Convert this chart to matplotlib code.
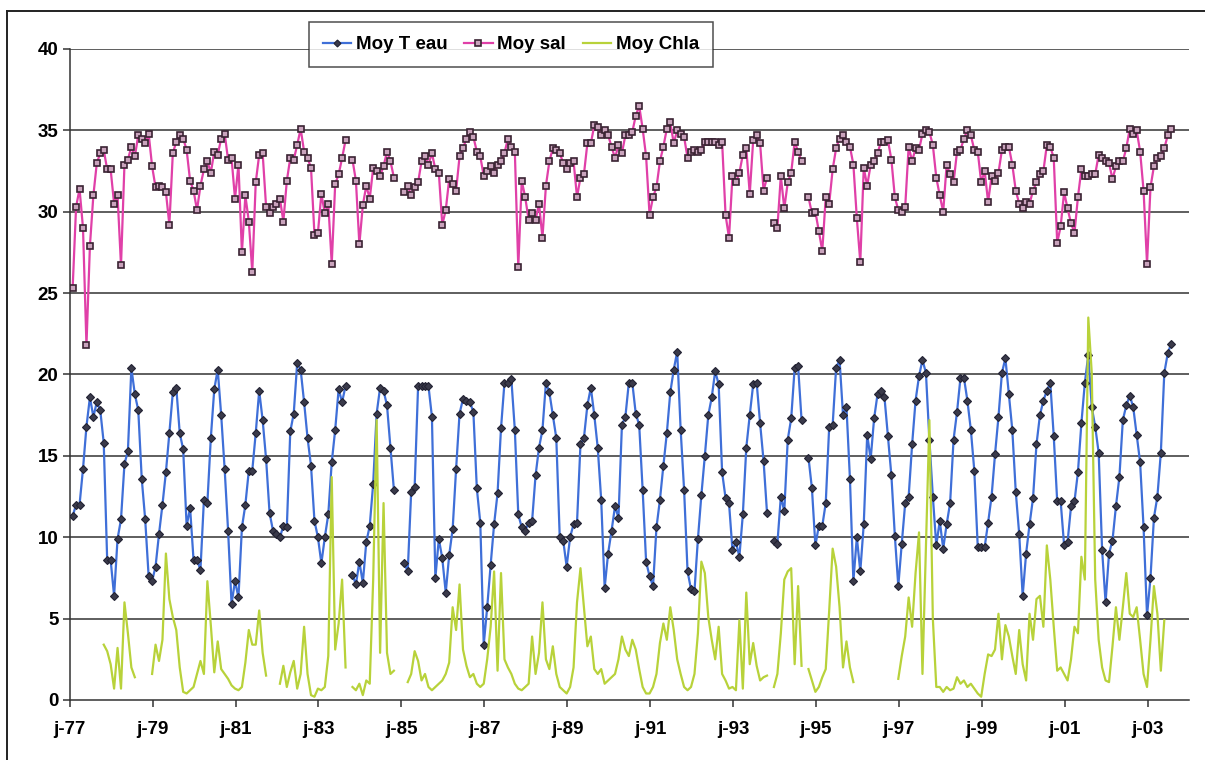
import numpy as np
import matplotlib
matplotlib.use("Agg")
import matplotlib.pyplot as plt
from matplotlib.lines import Line2D

N = None
# Monthly series, Jan 1977 .. Dec 2003 (12 values per row = one year)
temp = [
    11.3, 12.0, 12.0, 14.2, 16.8, 18.6, 17.4, 18.3, 17.8, 15.8, 8.6, 8.6,      # 1977
    6.4, 9.9, 11.1, 14.5, 15.3, 20.4, 18.8, 17.8, 13.6, 11.1, 7.6, 7.3,        # 1978
    8.2, 10.2, 12.0, 14.0, 16.4, 18.9, 19.2, 16.4, 15.4, 10.7, 11.8, 8.6,      # 1979
    8.6, 8.0, 12.3, 12.1, 16.1, 19.1, 20.3, 17.5, 14.2, 10.4, 5.9, 7.3,        # 1980
    6.3, 10.6, 12.0, 14.1, 14.1, 16.4, 19.0, 17.2, 14.8, 11.5, 10.4, 10.2,     # 1981
    10.0, 10.7, 10.6, 16.5, 17.6, 20.7, 20.3, 18.3, 16.1, 14.4, 11.0, 10.0,    # 1982
    8.4, 10.0, 11.4, 14.6, 16.6, 19.1, 18.3, 19.3, N, 7.7, 7.1, 8.5,           # 1983
    7.2, 9.7, 10.7, 13.3, 17.6, 19.2, 19.0, 18.1, 15.5, 12.9, N, N,            # 1984
    8.4, 7.9, 12.8, 13.1, 19.3, 19.3, 19.3, 19.3, 17.4, 7.5, 9.9, 8.7,         # 1985
    6.6, 8.9, 10.5, 14.2, 17.6, 18.5, 18.4, 18.3, 17.7, 13.0, 10.9, 3.4,       # 1986
    5.7, 8.3, 10.8, 12.7, 16.7, 19.5, 19.5, 19.7, 16.6, 11.4, 10.6, 10.4,      # 1987
    10.9, 11.0, 13.8, 15.5, 16.6, 19.5, 18.9, 17.5, 16.1, 10.0, 9.8, 8.2,      # 1988
    10.0, 10.8, 10.9, 15.7, 16.1, 18.1, 19.2, 17.5, 15.5, 12.3, 6.9, 9.0,      # 1989
    10.4, 11.9, 11.2, 16.9, 17.4, 19.5, 19.5, 17.6, 16.9, 12.9, 8.5, 7.6,      # 1990
    7.0, 10.6, 12.3, 14.4, 16.4, 18.9, 20.3, 21.4, 16.6, 12.9, 7.9, 6.8,       # 1991
    6.7, 9.9, 12.6, 15.0, 17.5, 18.6, 20.2, 19.4, 14.0, 12.4, 12.1, 9.2,       # 1992
    9.7, 8.8, 11.4, 15.5, 17.5, 19.4, 19.5, 17.0, 14.7, 11.5, N, 9.8,          # 1993
    9.6, 12.5, 11.6, 16.0, 17.3, 20.4, 20.5, 17.2, N, 14.9, 13.0, 9.5,         # 1994
    10.7, 10.7, 12.1, 16.8, 16.9, 20.4, 20.9, 17.5, 18.0, 13.6, 7.3, 10.0,     # 1995
    7.9, 10.8, 16.3, 14.8, 17.3, 18.8, 19.0, 18.6, 16.2, 13.8, 10.1, 7.0,      # 1996
    9.6, 12.1, 12.5, 15.7, 18.4, 19.9, 20.9, 20.1, 16.0, 12.5, 9.5, 11.0,      # 1997
    9.3, 10.8, 12.1, 16.0, 17.7, 19.8, 19.8, 18.4, 16.6, 14.1, 9.4, 9.4,       # 1998
    9.4, 10.9, 12.5, 15.1, 17.4, 20.1, 21.0, 18.8, 16.6, 12.8, 10.2, 6.4,      # 1999
    9.0, 10.8, 12.4, 15.7, 17.5, 18.4, 19.0, 19.5, 16.2, 12.2, 12.2, 9.5,      # 2000
    9.7, 11.9, 12.2, 14.0, 17.0, 19.5, 21.2, 18.0, 16.8, 15.2, 9.2, 6.0,       # 2001
    9.0, 9.8, 11.9, 13.7, 17.2, 18.1, 18.7, 18.0, 16.3, 14.6, 10.6, 5.2,       # 2002
    7.5, 11.2, 12.5, 15.2, 20.1, 21.3, 21.9, N, N, N, N, N,                    # 2003
]
sal = [
    25.3, 30.3, 31.4, 29.0, 21.8, 27.9, 31.0, 33.0, 33.6, 33.8, 32.6, 32.6,    # 1977
    30.5, 31.0, 26.7, 32.9, 33.2, 34.0, 33.4, 34.7, 34.5, 34.2, 34.8, 32.8,    # 1978
    31.5, 31.6, 31.5, 31.2, 29.2, 33.6, 34.3, 34.7, 34.5, 33.8, 31.9, 31.3,    # 1979
    30.1, 31.6, 32.6, 33.1, 32.4, 33.7, 33.5, 34.5, 34.8, 33.2, 33.3, 30.8,    # 1980
    32.9, 27.5, 31.0, 29.4, 26.3, 31.8, 33.5, 33.6, 30.3, 29.9, 30.3, 30.5,    # 1981
    30.8, 29.4, 31.9, 33.3, 33.2, 34.1, 35.1, 33.7, 33.3, 32.7, 28.6, 28.7,    # 1982
    31.1, 29.9, 30.5, 26.8, 31.7, 32.3, 33.3, 34.4, N, 33.2, 31.9, 28.0,       # 1983
    30.4, 31.6, 30.8, 32.7, 32.5, 32.2, 32.8, 33.7, 33.1, 32.1, N, N,          # 1984
    31.2, 31.6, 31.0, 31.5, 31.8, 33.1, 33.4, 32.9, 33.6, 32.6, 32.4, 29.2,    # 1985
    30.1, 32.0, 31.7, 31.3, 33.4, 33.9, 34.5, 34.9, 34.6, 33.7, 33.4, 32.2,    # 1986
    32.5, 32.8, 32.4, 32.9, 33.1, 33.6, 34.5, 34.0, 33.7, 26.6, 31.9, 30.9,    # 1987
    29.5, 29.9, 29.5, 30.5, 28.4, 31.6, 33.1, 33.9, 33.8, 33.6, 33.0, 32.6,    # 1988
    33.0, 33.1, 30.9, 32.1, 32.3, 34.2, 34.2, 35.3, 35.2, 34.7, 35.0, 34.7,    # 1989
    34.0, 33.3, 34.1, 33.6, 34.7, 34.7, 34.9, 35.9, 36.5, 35.1, 33.4, 29.8,    # 1990
    30.9, 31.5, 33.1, 34.0, 35.1, 35.5, 34.2, 35.0, 34.8, 34.6, 33.3, 33.7,    # 1991
    33.8, 33.7, 33.8, 34.3, 34.3, 34.3, 34.3, 34.1, 34.3, 29.8, 28.4, 32.2,    # 1992
    31.8, 32.4, 33.5, 33.9, 31.1, 34.4, 34.7, 34.2, 31.3, 32.1, N, 29.3,       # 1993
    29.0, 32.2, 30.2, 31.8, 32.4, 34.3, 33.7, 33.1, N, 30.9, 29.9, 30.0,       # 1994
    28.8, 27.6, 30.9, 30.5, 32.6, 33.9, 34.5, 34.7, 34.3, 34.0, 32.9, 29.6,    # 1995
    26.9, 32.7, 31.6, 32.9, 33.1, 33.6, 34.3, 34.3, 34.4, 33.2, 30.9, 30.1,    # 1996
    30.0, 30.3, 34.0, 33.1, 33.9, 33.8, 34.8, 35.0, 34.9, 34.1, 32.1, 31.0,    # 1997
    30.0, 32.9, 32.3, 31.8, 33.7, 33.8, 34.5, 35.0, 34.7, 33.8, 33.7, 31.8,    # 1998
    32.5, 30.6, 32.2, 31.9, 32.4, 33.8, 34.0, 34.0, 32.9, 31.3, 30.5, 30.2,    # 1999
    30.6, 30.5, 31.3, 31.8, 32.3, 32.5, 34.1, 34.0, 33.3, 28.1, 29.1, 31.2,    # 2000
    30.2, 29.3, 28.7, 30.9, 32.6, 32.2, 32.2, 32.3, 32.3, 33.5, 33.3, 33.1,    # 2001
    33.0, 32.0, 32.8, 33.1, 33.1, 33.9, 35.1, 34.8, 35.0, 33.7, 31.3, 26.8,    # 2002
    31.5, 32.8, 33.3, 33.4, 33.9, 34.7, 35.1, N, N, N, N, N,                   # 2003
]
chla = [
    N, N, N, N, N, N, N, N, N, 3.4, 3.0, 2.2,                                  # 1977
    0.7, 3.2, 0.7, 6.0, 4.1, 2.0, 1.4, N, N, N, N, 1.6,                        # 1978
    3.4, 2.4, 3.7, 9.0, 6.2, 5.1, 4.3, 2.0, 0.5, 0.4, 0.6, 0.8,                # 1979
    1.6, 2.4, 1.6, 7.3, 4.6, 1.7, 3.6, 1.9, 1.6, 1.3, 0.9, 0.7,                # 1980
    0.6, 0.8, 2.3, 4.3, 3.4, 3.4, 5.5, 2.9, 1.5, N, N, N,                      # 1981
    1.0, 2.1, 0.8, 1.7, 2.4, 0.7, 1.6, 4.5, 1.6, 0.3, 0.2, 0.7,                # 1982
    0.6, 0.8, 2.7, 13.7, 3.1, 4.7, 7.4, 2.0, N, 0.8, 0.6, 1.0,                 # 1983
    0.3, 1.2, 1.0, 7.4, 17.2, 2.9, 12.1, 2.9, 1.6, 1.8, N, N,                  # 1984
    N, 1.1, 1.6, 3.0, 2.4, 1.2, 1.6, 0.8, 0.6, 0.8, 1.0, 1.2,                  # 1985
    1.6, 2.3, 5.7, 4.3, 7.1, 3.1, 2.1, 1.4, 1.6, 1.0, 0.8, 1.0,                # 1986
    2.5, 4.5, 7.9, 1.8, 7.8, 2.5, 2.0, 1.6, 1.0, 0.7, 0.6, 0.8,                # 1987
    1.0, 3.9, 1.6, 2.9, 6.0, 2.5, 1.9, 3.3, 1.6, 0.8, 0.6, 0.4,                # 1988
    0.8, 2.0, 6.0, 8.1, 5.7, 3.3, 3.9, 1.9, 1.6, 1.9, 1.0, 1.2,                # 1989
    1.4, 1.6, 2.5, 3.9, 3.1, 2.7, 3.7, 3.1, 1.9, 0.8, 0.4, 0.4,                # 1990
    0.8, 1.6, 3.5, 4.7, 3.7, 5.7, 4.3, 2.5, 1.6, 0.8, 0.6, 0.8,                # 1991
    1.6, 4.1, 8.5, 7.8, 5.1, 3.7, 2.5, 4.5, 1.6, 1.2, 0.7, 0.8,                # 1992
    0.6, 4.9, 0.7, 6.6, 2.2, 3.5, 2.1, 1.2, 1.4, 1.5, N, 0.8,                  # 1993
    1.6, 4.1, 7.4, 7.9, 8.1, 2.2, 7.0, 2.1, N, 1.9, 1.2, 0.5,                  # 1994
    0.8, 1.4, 1.9, 5.5, 9.3, 8.2, 5.7, 2.0, 3.6, 2.0, 1.1, N,                  # 1995
    N, N, N, N, N, N, N, N, N, N, N, 1.3,                                      # 1996
    2.7, 3.9, 6.3, 4.5, 7.8, 10.3, 1.6, 9.4, 17.2, 5.0, 0.8, 0.8,              # 1997
    0.5, 0.8, 0.6, 0.7, 1.4, 1.0, 1.2, 0.8, 1.0, 0.7, 0.4, 0.2,                # 1998
    1.6, 2.8, 2.7, 3.1, 5.3, 2.5, 4.6, 3.9, 2.7, 1.6, 4.3, 2.2,                # 1999
    1.2, 5.3, 3.7, 6.2, 6.4, 4.5, 9.5, 7.4, 4.5, 1.8, 2.0, 1.6,                # 2000
    1.2, 2.5, 4.5, 4.1, 8.8, 7.4, 23.5, 20.1, 7.4, 3.7, 2.0, 1.2,              # 2001
    1.1, 3.3, 5.7, 3.7, 5.7, 7.8, 5.3, 5.1, 5.7, 3.7, 1.6, 0.8,                # 2002
    3.7, 7.0, 5.3, 1.8, 4.9, N, N, N, N, N, N, N,                              # 2003
]
start_year = 1977
tick_years = list(range(1977, 2004, 2))
tick_labels = ["j-%02d" % (y % 100) for y in tick_years]
series_names = ["Moy T eau", "Moy sal", "Moy Chla"]

def arr(v):
    return np.array([np.nan if x is None else x for x in v], dtype=float)

months = np.arange(len(temp))
dates = start_year + (months + 0.85) / 12.0

W, H = 1205, 760
fig = plt.figure(figsize=(W / 100, H / 100), dpi=100)
fig.patch.set_facecolor("white")
# outer chart frame (only top and left edges fall inside the picture)
fig.add_artist(Line2D([7 / W, 7 / W], [0, 1 - 11 / H], transform=fig.transFigure,
                      color="#222222", linewidth=1.4))
fig.add_artist(Line2D([7 / W, 1], [1 - 11 / H, 1 - 11 / H], transform=fig.transFigure,
                      color="#222222", linewidth=1.4))

ax = fig.add_axes([69.7 / W, 1 - 700 / H, (1189 - 69.7) / W, (700 - 49) / H])
ax.set_xlim(1977, 2004)
ax.set_ylim(0, 40)

for yv in range(5, 41, 5):
    ax.axhline(yv, color="#333333", linewidth=1.1, zorder=1)

font = dict(family="Liberation Sans", weight="bold", size=13.5)

ax.plot(dates, arr(temp), color="#3F6FD8", linewidth=1.6, marker="D",
        markersize=4.4, markerfacecolor="#3a3a4a", markeredgecolor="#222233",
        markeredgewidth=0.8, label=series_names[0], zorder=3)
ax.plot(dates, arr(sal), color="#E040A8", linewidth=1.6, marker="s",
        markersize=4.6, markerfacecolor="#C9A3BC", markeredgecolor="#3A2232",
        markeredgewidth=1.2, label=series_names[1], zorder=3)
ax.plot(dates, arr(chla), color="#B8D23A", linewidth=1.6,
        label=series_names[2], zorder=4)

ax.set_xticks(tick_years)
ax.set_xticklabels(tick_labels, fontdict=font)
ax.set_yticks(range(0, 41, 5))
ax.set_yticklabels([str(v) for v in range(0, 41, 5)], fontdict=font)
ax.tick_params(axis="both", direction="out", length=5, width=1.1,
               color="#333333")
ax.tick_params(axis="x", pad=10)
ax.tick_params(axis="y", pad=3)

for s in ["top", "right"]:
    ax.spines[s].set_visible(False)
for s in ["left", "bottom"]:
    ax.spines[s].set_color("#333333")
    ax.spines[s].set_linewidth(1.1)

leg = fig.legend(loc="upper left", bbox_to_anchor=(309 / W, 1 - 22 / H),
                 ncol=3, frameon=True, fancybox=False, edgecolor="#222222",
                 prop=dict(family="Liberation Sans", weight="bold", size=13.5),
                 handlelength=1.5, handletextpad=0.25, columnspacing=0.9,
                 borderpad=0.75, borderaxespad=0, markerscale=0.8)
leg.get_frame().set_linewidth(1.1)

fig.savefig("out.png", dpi=100, facecolor="white")
